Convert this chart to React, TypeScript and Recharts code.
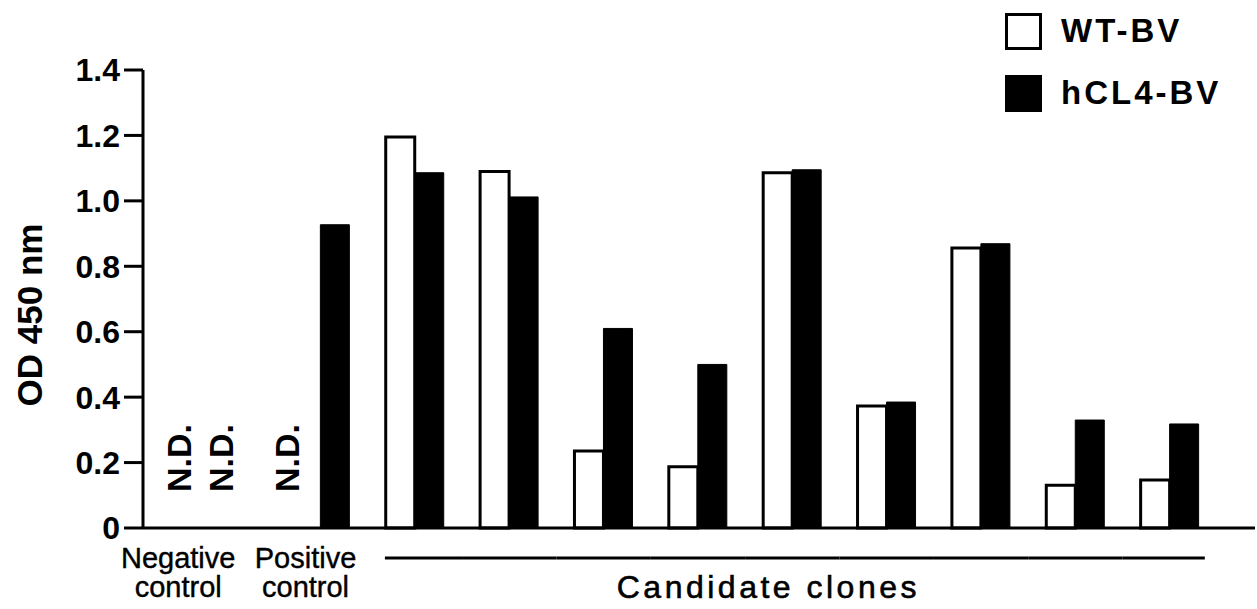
import { BarChart, Bar, XAxis, YAxis, Legend } from 'recharts';

const groups = ['neg', 'pos', 'c1', 'c2', 'c3', 'c4', 'c5', 'c6', 'c7', 'c8', 'c9'];
const groupLabels = [['Negative', 'control'], ['Positive', 'control'], [], [], [], [], [], [], [], [], []];
// null = N.D. (not determined)
const wtValues = [null, null, 1.195, 1.09, 0.235, 0.187, 1.086, 0.373, 0.856, 0.131, 0.147];
const hcl4Values = [null, 0.927, 1.086, 1.012, 0.61, 0.5, 1.095, 0.385, 0.869, 0.33, 0.318];
const yTicks = [0, 0.2, 0.4, 0.6, 0.8, 1.0, 1.2, 1.4];
const candidateTitle = 'Candidate clones';

const FONT = '"Liberation Sans", Arial, Helvetica, sans-serif';

const HALF_BAND = 47.2;
// the control-group texts sit a bit left of the band centre in the figure
const labelShift: Record<string, number> = { neg: -48, pos: -15 };
const ndOffset: Record<string, { wt: number; hcl4: number }> = {
  neg: { wt: -48, hcl4: -6 },
  pos: { wt: -35, hcl4: 0 },
};

const data = groups.map((g, i) => ({
  group: g,
  wt: wtValues[i],
  hcl4: hcl4Values[i],
}));

const firstCandidate = groups.indexOf('c1');
const lastCandidate = groups.length - 1;
const middleCandidate = groups.indexOf('c5');

function NDText({ cx, y }: { cx: number; y: number }) {
  const bx = cx + 13;
  const by = y - 36;
  return (
    <text
      x={bx}
      y={by}
      transform={`rotate(-90, ${bx}, ${by})`}
      textAnchor="start"
      fontFamily={FONT}
      fontWeight="bold"
      fontSize={34}
      fill="#000"
    >
      N.D.
    </text>
  );
}

function CategoryTick(props: any) {
  const { x, y, payload } = props;
  const g = payload.value;
  const idx = groups.indexOf(g);
  const lines = groupLabels[idx] || [];
  const off = ndOffset[g] || { wt: -14.5, hcl4: 14.5 };
  const nd: number[] = [];
  if (wtValues[idx] === null) nd.push(x + off.wt);
  if (hcl4Values[idx] === null) nd.push(x + off.hcl4);

  if (lines.length) {
    const cx = x + (labelShift[g] || 0);
    return (
      <g>
        {nd.map((c, i) => (
          <NDText key={'nd' + i} cx={c} y={y} />
        ))}
        {lines.map((t, i) => (
          <text
            key={i}
            x={cx}
            y={y + 40 + i * 29}
            textAnchor="middle"
            fontFamily={FONT}
            fontSize={29}
            fill="#000"
            stroke="#000"
            strokeWidth={0.4}
          >
            {t}
          </text>
        ))}
      </g>
    );
  }
  const x1 = idx === firstCandidate ? x - 30 : x - HALF_BAND;
  const x2 = idx === lastCandidate ? x + 35 : x + HALF_BAND;
  return (
    <g>
      <line x1={x1} x2={x2} y1={y + 30} y2={y + 30} stroke="#000" strokeWidth={3} />
      {idx === middleCandidate && (
        <text
          x={x - 24}
          y={y + 70}
          textAnchor="middle"
          fontFamily={FONT}
          fontSize={32}
          letterSpacing={3.5}
          fill="#000"
          stroke="#000"
          strokeWidth={0.6}
        >
          {candidateTitle}
        </text>
      )}
    </g>
  );
}

function LegendBox() {
  const items = [
    { name: 'WT-BV', fill: '#fff' },
    { name: 'hCL4-BV', fill: '#000' },
  ];
  return (
    <div style={{ fontFamily: FONT }}>
      {items.map((it, i) => (
        <div key={it.name} style={{ display: 'flex', alignItems: 'center', height: 38, marginBottom: i === 0 ? 24 : 0 }}>
          <div style={{ width: 37, height: 37, boxSizing: 'border-box', border: '3px solid #000', background: it.fill }} />
          <span style={{ marginLeft: 19, fontSize: 33, fontWeight: 'bold', letterSpacing: 3, color: '#000', whiteSpace: 'nowrap' }}>
            {it.name}
          </span>
        </div>
      ))}
    </div>
  );
}

export default function App() {
  return (
    <div style={{ position: 'absolute', left: 0, top: 0, background: '#fff' }}>
      <BarChart
        width={1257}
        height={609}
        data={data}
        margin={{ top: 70, right: 2, bottom: 0, left: 0 }}
        barGap={0}
      >
        <XAxis
          dataKey="group"
          height={81}
          padding={{ left: 36, right: 38 }}
          axisLine={{ stroke: '#000', strokeWidth: 3 }}
          tickLine={false}
          tickSize={0}
          tickMargin={0}
          interval={0}
          tick={<CategoryTick />}
        />
        <YAxis
          width={143}
          domain={[0, 1.4]}
          ticks={yTicks}
          interval={0}
          tickFormatter={(v: number) => (v === 0 ? '0' : v.toFixed(1))}
          axisLine={{ stroke: '#000', strokeWidth: 3 }}
          tickLine={{ stroke: '#000', strokeWidth: 3 }}
          tickSize={19}
          tickMargin={4}
          tick={{ fontFamily: FONT, fontSize: 32, fontWeight: 'bold', fill: '#000' }}
          label={(p: any) => {
            const vb = p.viewBox || { x: 0, y: 70, height: 458 };
            const lx = vb.x + 42;
            const ly = vb.y + vb.height / 2 + 16;
            return (
              <text
                x={lx}
                y={ly}
                transform={`rotate(-90, ${lx}, ${ly})`}
                textAnchor="middle"
                fontFamily={FONT}
                fontWeight="bold"
                fontSize={35}
                fill="#000"
              >
                OD 450 nm
              </text>
            );
          }}
        />
        <Legend
          layout="vertical"
          align="center"
          verticalAlign="middle"
          wrapperStyle={{ top: 12, left: 1005, width: 'auto', height: 'auto' }}
          content={() => <LegendBox />}
        />
        <Bar dataKey="wt" name="WT-BV" fill="#fff" stroke="#000" strokeWidth={3} barSize={29} isAnimationActive={false} />
        <Bar dataKey="hcl4" name="hCL4-BV" fill="#000" stroke="#000" strokeWidth={1} barSize={29} isAnimationActive={false} />
      </BarChart>
    </div>
  );
}
